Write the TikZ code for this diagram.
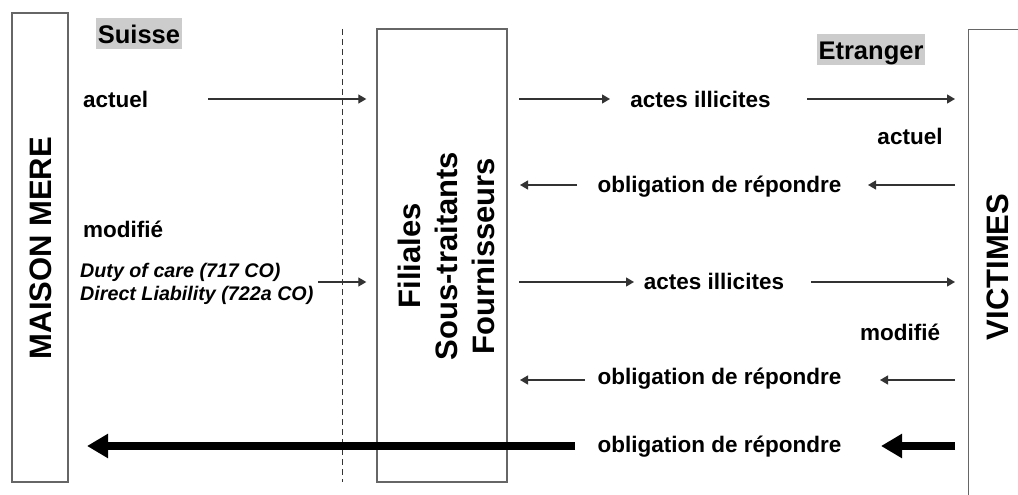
\documentclass[tikz,border=0pt]{standalone}
\usepackage{fontspec}
\setmainfont{Liberation Sans}
\usetikzlibrary{arrows.meta}
\begin{document}
\begin{tikzpicture}[x=1pt,y=-1pt,
  frame/.style={draw=black!60, line width=1.4pt, rectangle, inner sep=0pt},
  bigtxt/.style={font=\bfseries\fontsize{31}{37}\selectfont, rotate=90, inner sep=0pt, align=center},
  lbl/.style={font=\bfseries\fontsize{22.5}{26}\selectfont, inner sep=0pt},
  ref/.style={font=\bfseries\itshape\fontsize{19.7}{23}\selectfont, inner sep=0pt},
  region/.style={font=\bfseries\fontsize{25.5}{30}\selectfont, fill=black!20, inner xsep=1.5pt, inner ysep=2.5pt, text height=23pt, text depth=3pt, anchor=base},
  thinarrow/.style={draw=black!80, line width=1.3pt, -{Triangle[length=8pt,width=9pt]}},
  thickarrow/.style={draw=black, line width=8pt, -{Triangle[length=21pt,width=23pt]}},
  border/.style={draw=black!80, line width=1pt, dash pattern=on 6pt off 4pt}
]
\useasboundingbox (0,0) rectangle (1018,495);
\clip (0,0) rectangle (1018,495);

% boxes
\node[frame, minimum width=56pt, minimum height=469pt] (mm) at (40,247.5) {};
\node[frame, minimum width=130pt, minimum height=453pt] (mid) at (442,255.5) {};
\node[frame, minimum width=100pt, minimum height=500pt, anchor=north west] (vic) at (968,29) {};

\node[bigtxt] (mmt) at (41,248) {MAISON MERE};
\node[bigtxt] (midt) at (446,256) {Filiales\\Sous-traitants\\Fournisseurs};
\node[bigtxt] (vict) at (998,267) {VICTIMES};

% dashed border
\coordinate (dtop) at (342,29);
\coordinate (dbot) at (342,482);
\draw[border] (dtop) -- (dbot);

% region labels
\node[region] (ch) at (139,43.5) {Suisse};
\node[region] (et) at (871,59.5) {Etranger};

% left labels
\node[lbl, anchor=base west] (lact) at (83,107) {actuel};
\node[lbl, anchor=base west] (lmod) at (83,237) {modifié};
\node[ref, anchor=base west] (duty) at (80,277) {Duty of care (717 CO)};
\node[ref, anchor=base west] (dirl) at (80,300) {Direct Liability (722a CO)};

% right labels
\node[lbl, anchor=base] (ai1) at (700.5,107) {actes illicites};
\node[lbl, anchor=base] (ract) at (910,144) {actuel};
\node[lbl, anchor=base] (ob1) at (719.5,192) {obligation de répondre};
\node[lbl, anchor=base] (ai2) at (714,289) {actes illicites};
\node[lbl, anchor=base] (rmod) at (900,340) {modifié};
\node[lbl, anchor=base] (ob2) at (719.5,384) {obligation de répondre};
\node[lbl, anchor=base] (ob3) at (719.5,452) {obligation de répondre};

% left arrows
\coordinate (la1) at (208,99);
\coordinate (la2) at (318,282);
\draw[thinarrow] (la1) -- ([xshift=-10pt]mid.west |- la1);
\draw[thinarrow] (la2) -- ([xshift=-10pt]mid.west |- la2);

% row 1
\coordinate (r1a) at (519,99);
\coordinate (r1b) at (610,99);
\coordinate (r1c) at (807,99);
\coordinate (r1d) at (955,99);
\draw[thinarrow] (r1a) -- (r1b);
\draw[thinarrow] (r1c) -- (r1d);
% row 2
\coordinate (r2a) at (577,185);
\coordinate (r2b) at (520,185);
\coordinate (r2c) at (955,185);
\coordinate (r2d) at (868,185);
\draw[thinarrow] (r2a) -- (r2b);
\draw[thinarrow] (r2c) -- (r2d);
% row 3
\coordinate (r3a) at (519,282);
\coordinate (r3b) at (634,282);
\coordinate (r3c) at (811,282);
\coordinate (r3d) at (955,282);
\draw[thinarrow] (r3a) -- (r3b);
\draw[thinarrow] (r3c) -- (r3d);
% row 4
\coordinate (r4a) at (585,380);
\coordinate (r4b) at (520,380);
\coordinate (r4c) at (955,380);
\coordinate (r4d) at (880,380);
\draw[thinarrow] (r4a) -- (r4b);
\draw[thinarrow] (r4c) -- (r4d);
% row 5 thick
\coordinate (r5a) at (575,446);
\coordinate (r5b) at (87,446);
\coordinate (r5c) at (955,446);
\coordinate (r5d) at (881,446);
\draw[thickarrow] (r5a) -- (r5b);
\draw[thickarrow] (r5c) -- (r5d);
\end{tikzpicture}
\end{document}
